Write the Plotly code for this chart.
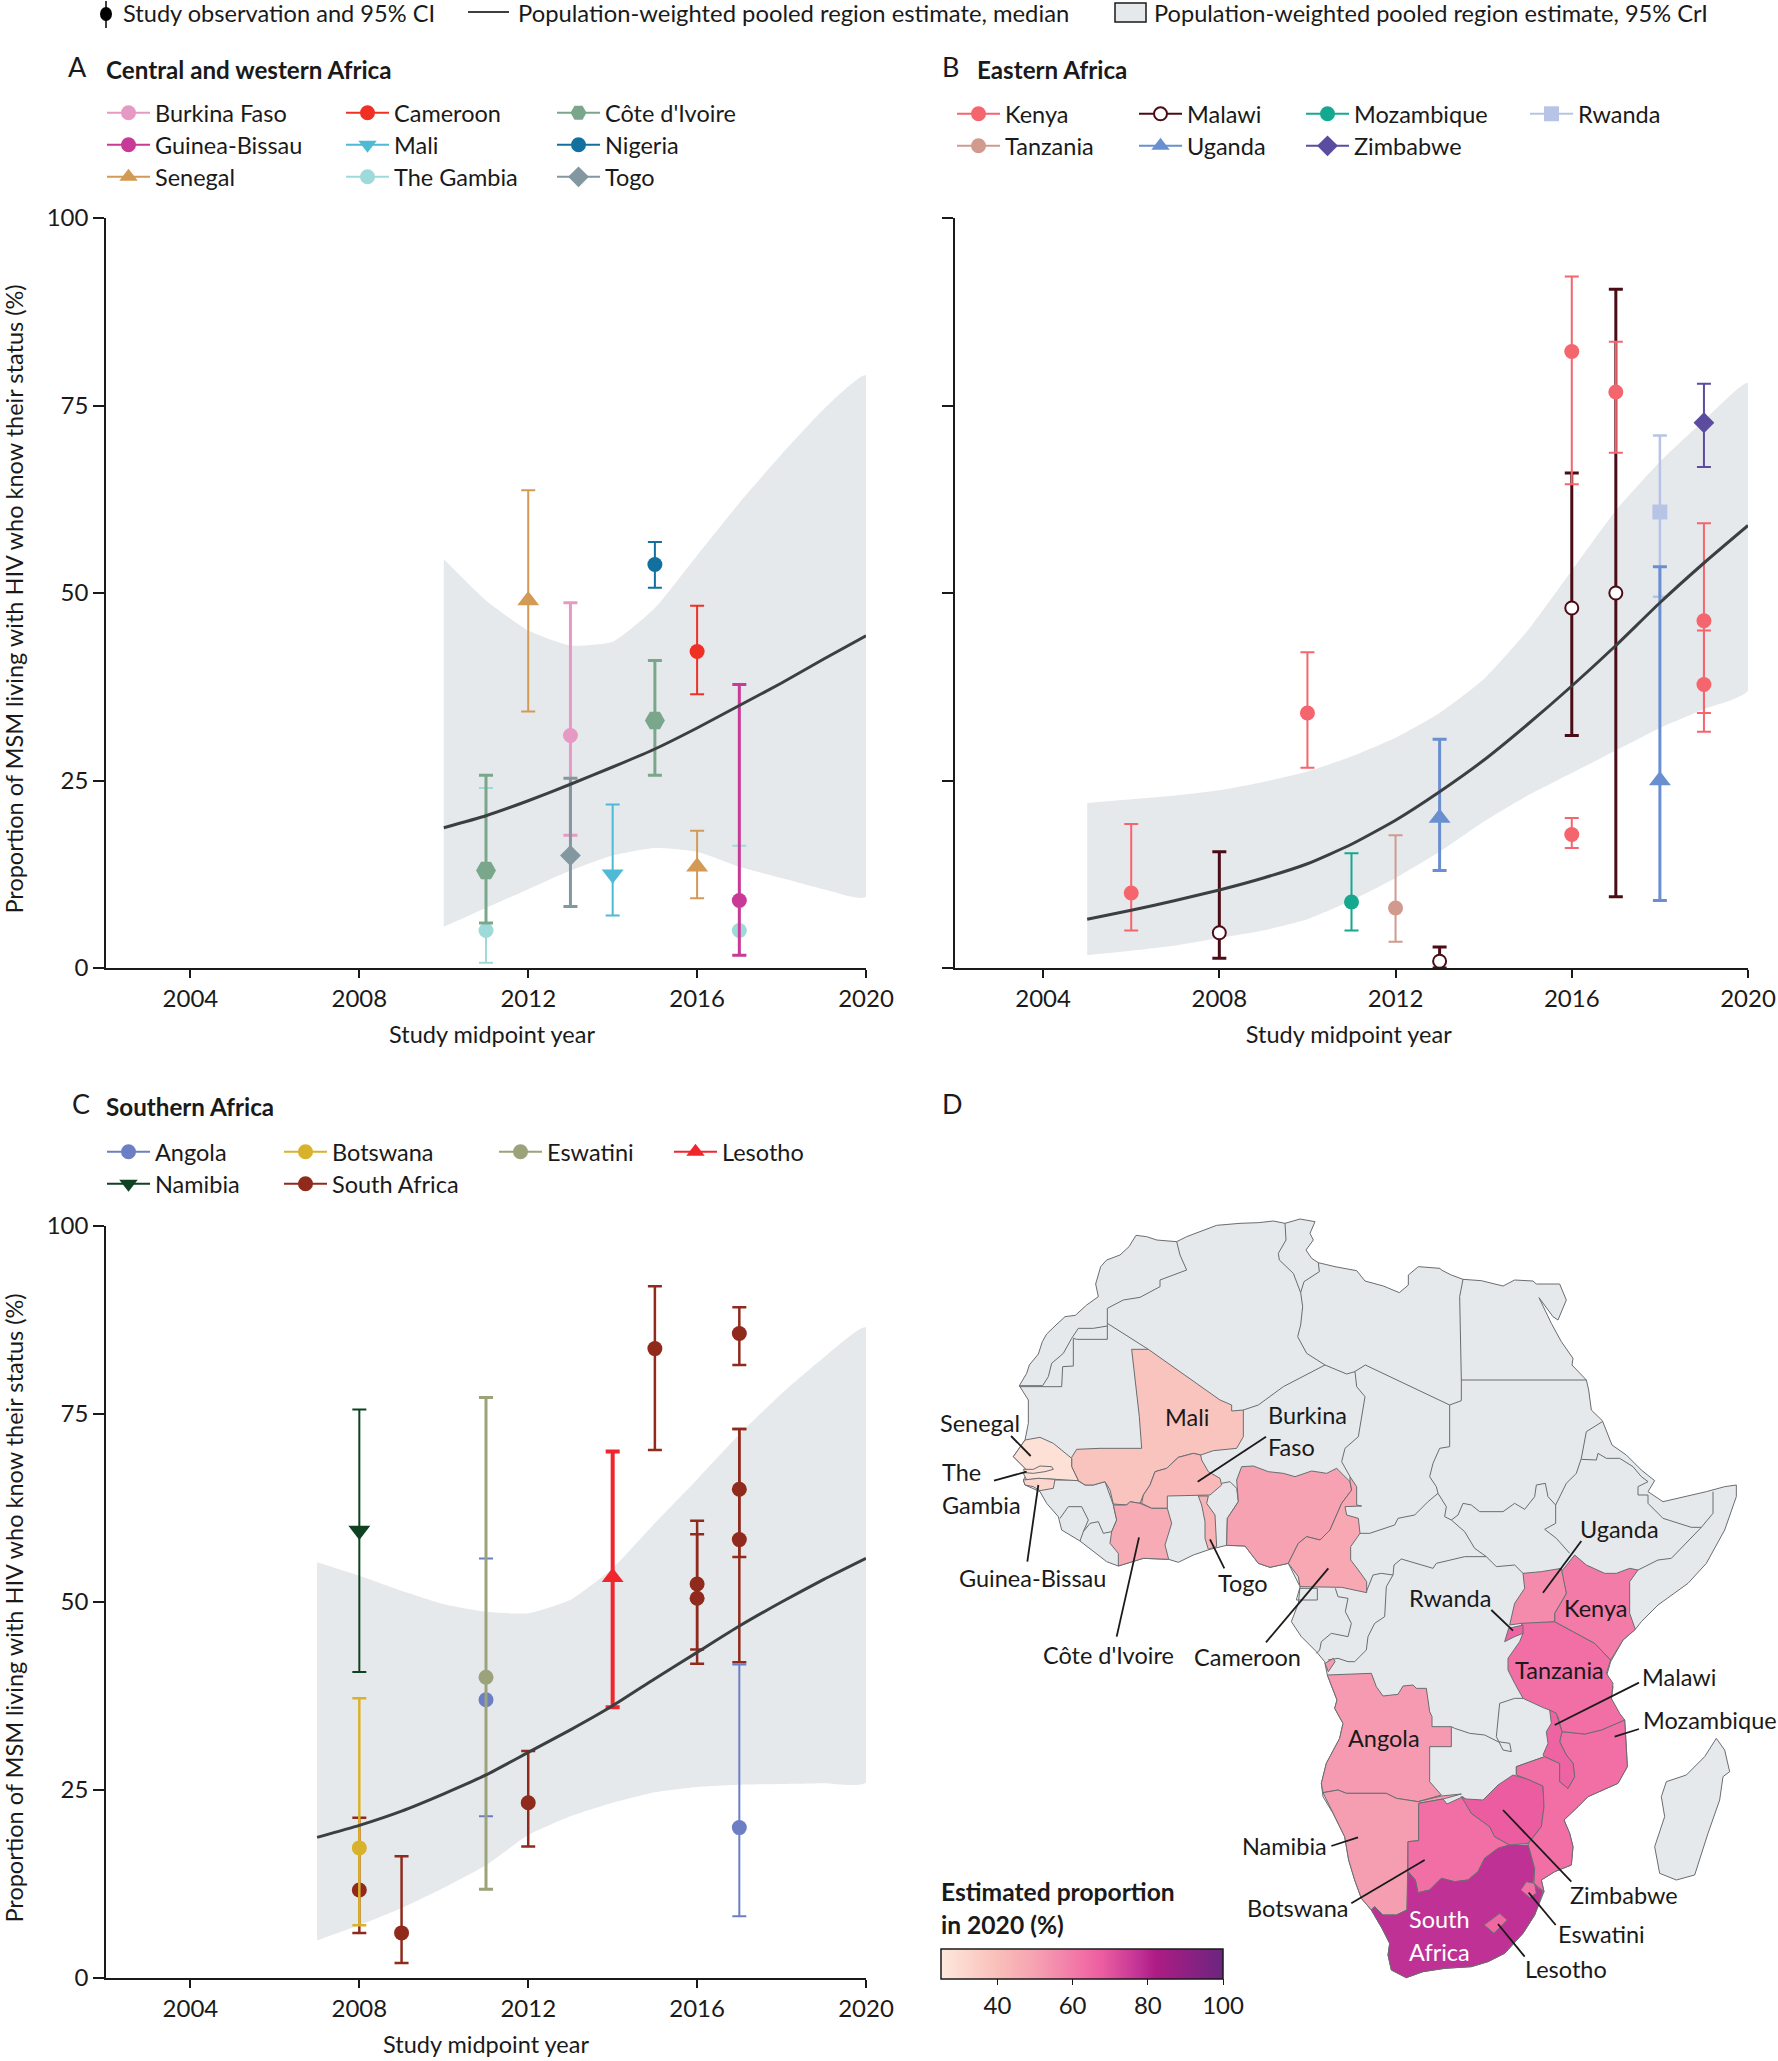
import plotly.graph_objects as go
from plotly.colors import sample_colorscale

# ---------------- DATA: panel A, Central and western Africa ----------------
A_band_years = [2010, 2011, 2012, 2013, 2014, 2015, 2016, 2017, 2018, 2019, 2020]
A_median = [18.7, 20.3, 22.3, 24.5, 26.8, 29.2, 32, 35, 38, 41.2, 44.3]
A_upper = [54.5, 49, 45, 43, 43.5, 48, 55, 62, 68.5, 74.5, 79]
A_lower = [5.5, 8, 10.5, 13, 15, 16, 15.5, 13.5, 12, 10.5, 9.5]
A_countries = ["The Gambia", "Burkina Faso", "Cameroon", "Côte d'Ivoire", "Guinea-Bissau", "Mali", "Nigeria", "Senegal", "Togo"]
A_years = [[2011, 2017], [2013], [2016], [2011, 2015], [2017], [2014], [2015], [2012, 2016], [2013]]
A_values = [[5, 5], [31], [42.2], [13, 33], [9], [12.5], [53.8], [49, 13.5], [15]]
A_low = [[0.7, 1.7], [17.7], [36.5], [6, 25.7], [1.7], [7], [50.7], [34.2, 9.3], [8.2]]
A_high = [[24, 16.3], [48.7], [48.3], [25.7, 41], [37.8], [21.8], [56.8], [63.7, 18.3], [25.3]]

# ---------------- DATA: panel B, Eastern Africa ----------------
B_band_years = [2005, 2006, 2007, 2008, 2009, 2010, 2011, 2012, 2013, 2014, 2015, 2016, 2017, 2018, 2019, 2020]
B_median = [6.5, 7.7, 9, 10.4, 12, 13.9, 16.5, 19.7, 23.5, 27.7, 32.5, 37.6, 43, 48.7, 54, 59]
B_upper = [22, 22.5, 23, 23.7, 24.8, 26.2, 28.2, 30.7, 34, 38.5, 45, 53, 61, 67.5, 73, 78]
B_lower = [1.7, 2.3, 3, 4, 5, 6.5, 9, 12, 15.5, 19.5, 23, 26, 29, 32, 34.5, 37]
B_countries = ["Malawi", "Kenya", "Mozambique", "Rwanda", "Tanzania", "Uganda", "Zimbabwe"]
B_years = [[2008, 2013, 2016, 2017], [2006, 2010, 2016, 2016, 2017, 2019, 2019], [2011], [2018], [2012], [2013, 2018], [2019]]
B_values = [[4.7, 0.9, 48, 50], [10, 34, 82.2, 17.8, 76.8, 46.3, 37.8], [8.8], [60.8], [8], [20, 25], [72.7]]
B_low = [[1.3, 0, 31, 9.5], [5, 26.7, 64.5, 16, 68.7, 34, 31.5], [5], [49.5], [3.5], [13, 9], [66.8]]
B_high = [[15.5, 2.8, 66, 90.5], [19.2, 42.1, 92.2, 20, 83.5, 59.3, 45], [15.3], [71], [17.7], [30.5, 53.5], [77.9]]

# ---------------- DATA: panel C, Southern Africa ----------------
C_band_years = [2007, 2008, 2009, 2010, 2011, 2012, 2013, 2014, 2015, 2016, 2017, 2018, 2019, 2020]
C_median = [18.7, 20.3, 22.2, 24.5, 27, 30, 33, 36.2, 39.8, 43.3, 46.8, 50, 53, 55.8]
C_upper = [55.3, 53.5, 51.5, 49.7, 48.7, 48.5, 50.3, 54.5, 60.5, 66.3, 72.3, 77.7, 82.5, 86.5]
C_lower = [5, 7, 9.3, 12, 15, 19, 21.5, 23.3, 24.7, 25.4, 25.7, 25.8, 25.9, 26]
C_countries = ["South Africa", "Angola", "Botswana", "Eswatini", "Lesotho", "Namibia"]
C_years = [[2008, 2009, 2012, 2015, 2016, 2016, 2017, 2017, 2017], [2011, 2017], [2008], [2011], [2014], [2008]]
C_values = [[11.7, 6, 23.3, 83.7, 52.4, 50.5, 85.7, 65, 58.3], [37, 20], [17.3], [40], [53.3], [59.5]]
C_low = [[6, 2, 17.5, 70.2, 43.7, 41.8, 81.5, 56, 42], [21.5, 8.2], [7], [11.8], [36], [40.7]]
C_high = [[21.3, 16.2, 30.2, 92, 60.8, 59, 89.2, 73, 73], [55.8, 41.7], [37.2], [77.2], [70], [75.6]]

TICK_YEARS = [2004, 2008, 2012, 2016, 2020]
TICK_PCT = [0, 25, 50, 75, 100]
Y_TITLE = "Proportion of MSM living with HIV who know their status (%)"
X_TITLE = "Study midpoint year"

# ---------------- DATA: panel D, estimated proportion in 2020 ----------------
D_estimates = {
    "Senegal": 28, "The Gambia": 28, "Guinea-Bissau": 32, "Mali": 38, "Burkina Faso": 42, "Togo": 44,
    "Côte d'Ivoire": 47, "Nigeria": 50, "Cameroon": 48, "Angola": 52, "Namibia": 51, "Uganda": 56,
    "Kenya": 60, "Botswana": 63, "Mozambique": 63, "Tanzania": 63, "Malawi": 66, "Zimbabwe": 68,
    "Eswatini": 63, "Lesotho": 65, "Rwanda": 66, "South Africa": 78,
}
COLOR_TICKS = [40, 60, 80, 100]

# Map outlines, in map units
def E(pts):
    return [(x + 984, y) for x, y in pts]
def S(pts):
    return [(x + 984, y + 1170) for x, y in pts]

CONTINENT = (
    [(268,527),(290,490),(298,465),(325,432),(337,395),(350,372),(378,345),(405,320),(436,316),(470,285),(505,260),(497,222),(512,170),(530,150),(570,135),(597,110),(618,76),(650,80),(680,90),(740,95),(770,80),(815,62),(860,46),(930,40),(985,38),(1030,33),(1065,40),(1110,27),(1155,35),(1140,70),(1150,90),(1128,120),(1145,145),(1165,158),(1215,170),(1280,182),(1305,213),(1360,228),(1408,248),(1435,225),(1435,195),(1465,170),(1530,175)]
    + E([(550,180),(580,195),(615,208),(670,212),(735,228),(770,210),(825,213),(835,222),(905,222),(925,270),(900,330),(885,320),(843,263),(880,340),(910,395),(945,445),(942,465),(985,510),(992,540),(1000,600),(1033,632),(1062,705),(1105,735),(1150,780),(1190,812),(1170,845),(1215,875),(1280,860),(1345,845),(1400,830),(1435,825),(1435,860),(1400,960),(1345,1060),(1290,1120),(1200,1185),(1150,1235),(1132,1258),(1095,1290),(1058,1355),(1045,1400),(1065,1430),(1060,1470),(1085,1525)])
    + S([(1100,360),(1105,440),(1108,500),(1080,550),(1030,572),(990,590),(960,620),(918,660),(935,700),(945,740),(940,795),(890,815),(850,840),(858,875),(830,945),(795,1000),(740,1060),(690,1085),(640,1100),(560,1105),(495,1115),(445,1133),(400,1110),(390,1065),(395,1030),(372,985),(340,930),(310,895),(290,840),(272,780),(260,710),(225,640),(195,590),(190,550),(205,490),(245,415),(255,370),(230,325),(237,300),(208,225),(200,185),(175,155),(130,110),(100,65)])
    + [(1105,1180),(1110,1130),(1075,1060),(1020,1072),(985,1060),(945,1008),(890,1006),(840,1018),(790,1035),(745,1057),(716,1048),(640,1045),(565,1068),(530,1055),(450,993),(395,960),(385,920),(350,880),(330,845),(285,825),(280,810),(295,785),(250,740),(285,690),(295,640),(295,570),(268,527)]
)
MADAGASCAR = S([(1375,415),(1400,450),(1415,515),(1395,530),(1385,600),(1350,700),(1310,825),(1255,840),(1205,820),(1190,740),(1220,650),(1210,590),(1225,545),(1285,525),(1340,470),(1375,415)])

BORDERS = [
    [(740,95),(750,135),(770,180),(690,210),(690,230),(630,262),(580,270),(532,295),(532,388),(440,388),(430,385)],
    [(532,348),(490,355),(445,355),(425,385),(400,430),(365,460),(355,500),(338,527),(268,527)],
    [(430,385),(430,468),(398,470),(395,530),(268,530)],
    [(532,340),(655,418)],
    [(1065,40),(1068,90),(1045,130),(1048,150),(1090,190),(1112,248),(1118,290),(1112,345),(1103,380),(1130,430),(1185,465)],
    [(1165,158),(1168,185),(1122,215),(1112,248)],
    [(940,600),(985,585),(1060,530),(1110,505),(1185,465),(1250,492),(1275,485),(1280,530),(1305,560),(1285,680),(1245,715),(1235,755),(1260,800)],
    E([(290,485),(322,465),(575,585),(610,572),(610,510),(605,260),(615,208)]),
    E([(610,510),(985,510)]),
    E([(575,585),(575,710),(545,715),(525,760),(515,800),(535,830),(540,850),(510,875),(470,915),(420,925),(410,945),(335,970),(305,970)]),
    E([(540,850),(565,890),(560,920),(580,930),(600,915),(615,880),(640,885),(665,905),(735,905),(770,880),(800,898),(830,860),(835,825),(862,820),(870,860),(893,885),(893,940),(860,958),(895,985),(935,1030)]),
    E([(893,885),(925,820),(955,790),(970,745),(985,665),(1033,635)]),
    E([(970,748),(1015,750),(1020,730),(1045,745),(1085,745),(1125,770),(1150,800),(1170,815),(1140,830),(1140,855),(1170,855),(1170,880),(1215,925),(1300,952),(1330,952),(1365,910),(1365,845)]),
    E([(1330,952),(1240,1045),(1200,1050),(1140,1080)]),
    E([(580,930),(620,965),(650,1015),(685,1040),(715,1070),(770,1065),(795,1090)]),
    E([(685,1040),(620,1040),(535,1060),(525,1075),(430,1047),(408,1065),(405,1095),(370,1090),(345,1095),(325,1145)]),
    E([(405,1095),(385,1130),(380,1220),(350,1240),(330,1280),(325,1320),(290,1355),(270,1355),(240,1345),(210,1350)]),
    E([(232,1135),(240,1160),(270,1165),(262,1205),(280,1240),(270,1280),(220,1270),(190,1295),(185,1320),(175,1330)]),
    E([(125,1135),(178,1135),(178,1170),(115,1170),(125,1135)]),
    S([(580,380),(590,385),(635,400),(680,405),(720,425),(755,430),(760,455),(735,450),(715,410),(725,310),(770,295),(795,295)]),
    S([(860,470),(775,500),(775,525)]),
    [(375,810),(440,810),(465,825),(490,825),(525,815),(545,870),(550,885),(560,930),(545,965),(520,970),(505,935),(480,940),(460,965),(450,993)],
    [(390,925),(415,890),(455,890),(475,930),(460,965)],
    [(875,820),(900,815),(920,835),(925,875),(892,925),(890,1005)],
]

COUNTRY_SHAPES = [
    ("Mali", [(605,418),(655,418),(870,570),(905,585),(905,603),(940,600),(940,680),(920,715),(850,722),(812,735),(790,730),(745,742),(710,775),(675,785),(660,825),(640,855),(630,880),(600,875),(590,885),(550,882),(540,840),(525,815),(490,825),(465,825),(445,812),(425,770),(425,742),(440,718),(510,715),(635,715),(628,620),(605,418)]),
    ("Senegal", [(285,690),(330,682),(370,700),(395,720),(425,745),(425,770),(445,812),(375,808),(325,805),(290,810),(280,790),(295,785),(280,770),(250,740),(285,690)]),
    ("The Gambia", [(280,778),(310,778),(330,768),(365,770),(370,778),(345,785),(310,790),(285,788),(280,778)]),
    ("Guinea-Bissau", [(280,810),(325,805),(375,808),(370,835),(330,842),(310,830),(285,825),(280,810)]),
    ("Burkina Faso", [(812,735),(790,730),(745,742),(710,775),(675,785),(660,825),(640,855),(635,880),(665,895),(712,895),(712,858),(805,855),(840,855),(875,825),(870,805),(835,785),(815,750),(812,735)]),
    ("Côte d'Ivoire", [(550,885),(590,885),(600,875),(630,880),(665,895),(712,895),(725,940),(705,1005),(716,1048),(640,1045),(565,1068),(565,1030),(540,1000),(545,965),(560,930),(550,885)]),
    ("Togo", [(805,858),(835,858),(830,880),(855,915),(860,1010),(835,1018),(825,985),(825,935),(815,885),(805,858)]),
    ("Nigeria", [(935,770),(970,768),(1015,785),(1060,790),(1095,800),(1145,783),(1190,790),(1220,775),(1260,815),(1265,840),(1235,880),(1200,960),(1170,990),(1130,980),(1105,1000),(1075,1060),(1020,1072),(985,1060),(945,1008),(890,1006),(892,925),(925,875),(920,810),(935,770)]),
    ("Cameroon", [(1260,800),(1280,830),(1280,885),(1295,888),(1245,890),(1250,915),(1285,925),(1290,970),(1262,1010),(1262,1050),(1285,1080),(1310,1115),(1310,1148),(1235,1132),(1110,1130),(1105,1100),(1075,1060),(1105,1000),(1130,980),(1170,990),(1200,960),(1235,880),(1265,840),(1260,815),(1260,800)]),
    ("Angola", [(1185,1360),(1210,1345),(1215,1355),(1195,1385),(1185,1360)]),
    ("Angola", S([(208,225),(340,220),(355,260),(375,288),(420,283),(435,258),(465,255),(475,265),(505,265),(515,335),(522,350),(522,380),(580,380),(580,440),(515,440),(515,545),(550,585),(480,605),(415,595),(385,580),(265,580),(240,570),(195,578),(190,550),(205,490),(245,415),(255,370),(230,325),(237,300),(208,225)])),
    ("Namibia", S([(195,578),(240,570),(265,580),(385,580),(415,595),(480,605),(550,588),(610,582),(555,597),(482,610),(482,722),(450,725),(447,930),(415,945),(375,945),(350,920),(340,930),(310,895),(290,840),(272,780),(260,710),(225,640),(195,578)])),
    ("Botswana", S([(482,610),(555,597),(567,612),(615,590),(640,640),(695,680),(710,710),(755,735),(720,745),(680,775),(660,815),(630,840),(590,845),(550,835),(515,870),(480,878),(472,840),(450,815),(450,725),(482,722),(482,610)])),
    ("Zimbabwe", S([(610,590),(625,597),(675,600),(720,555),(765,525),(810,538),(855,558),(858,620),(850,680),(810,730),(755,735),(710,710),(695,680),(640,640),(610,590)])),
    ("South Africa", S([(755,735),(810,735),(830,805),(825,850),(855,875),(830,945),(795,1000),(740,1060),(690,1085),(640,1100),(560,1105),(495,1115),(445,1133),(400,1110),(390,1065),(395,1030),(372,985),(340,930),(350,920),(375,945),(415,945),(447,930),(450,815),(472,840),(480,878),(515,870),(550,835),(590,845),(630,840),(660,815),(680,775),(720,745),(755,735)])),
    ("Lesotho", S([(725,940),(748,960),(708,1000),(678,975),(725,940)])),
    ("Eswatini", S([(805,845),(830,850),(835,880),(815,893),(788,870),(805,845)])),
    ("Mozambique", S([(1100,360),(1105,440),(1108,500),(1080,550),(1030,572),(990,590),(960,620),(918,660),(935,700),(945,740),(940,795),(890,815),(850,840),(858,875),(828,850),(830,805),(810,732),(850,680),(858,620),(855,558),(810,538),(775,525),(775,500),(860,470),(905,490),(905,545),(930,565),(950,530),(945,490),(925,465),(905,425),(912,395),(980,402),(1030,390),(1100,360)])),
    ("Tanzania", S([(790,67),(890,65),(1010,130),(1058,180),(1045,220),(1065,250),(1060,295),(1085,340),(1100,360),(1030,390),(980,402),(912,395),(900,350),(875,330),(860,325),(795,295),(770,250),(750,210),(750,175),(785,125),(795,100),(790,67)])),
    ("Malawi", S([(875,330),(895,340),(905,375),(912,395),(905,425),(925,465),(945,490),(950,530),(930,565),(905,545),(905,490),(860,470),(855,465),(870,430),(865,395),(880,370),(875,330)])),
    ("Rwanda", S([(752,85),(795,75),(795,100),(770,110),(740,125),(752,85)])),
    ("Kenya", E([(950,1035),(985,1065),(1040,1090),(1075,1090),(1115,1075),(1140,1080),(1115,1115),(1115,1210),(1132,1258),(1095,1290),(1058,1350),(1010,1300),(890,1235),(890,1210),(925,1150),(910,1085),(950,1035)])),
    ("Uganda", E([(795,1090),(850,1085),(910,1075),(925,1150),(890,1210),(890,1235),(790,1240),(755,1245),(770,1180),(800,1135),(795,1090)])),
]

LEADERS = [
    [(243,678),(302,738)], [(192,812),(290,785)], [(292,1055),(325,825)], [(560,1280),(627,982)],
    [(883,1075),(840,988)], [(1008,1297),(1195,1075)], [(1008,680),(803,815)],
    E([(970,993),(855,1148)]), E([(700,1200),(765,1262)]), E([(1143,1418),(890,1545)]),
    S([(1143,387),(1070,410)]), S([(220,738),(300,712)]), S([(280,910),(500,780)]),
    S([(940,845),(735,630)]), S([(893,975),(812,878)]), S([(800,1070),(720,972)]),
]

# (map x, map y, text, anchor, colour)
MAP_LABELS = [
    (150,640,"Senegal","center","#1a1a1a"), (31,785,"The","left","#1a1a1a"), (31,885,"Gambia","left","#1a1a1a"),
    (308,1103,"Guinea-Bissau","center","#1a1a1a"), (535,1335,"Côte d'Ivoire","center","#1a1a1a"),
    (940,1120,"Togo","center","#1a1a1a"), (952,1340,"Cameroon","center","#1a1a1a"), (770,622,"Mali","center","#1a1a1a"),
    (1009,615,"Burkina","left","#1a1a1a"), (1009,710,"Faso","left","#1a1a1a"),
    (984+1085,958,"Uganda","center","#1a1a1a"), (984+575,1165,"Rwanda","center","#1a1a1a"), (984+1012,1195,"Kenya","center","#1a1a1a"),
    (984+905,1380,"Tanzania","center","#1a1a1a"), (984+1263,1402,"Malawi","center","#1a1a1a"),
    (984+1355,1170+360,"Mozambique","center","#1a1a1a"), (984+378,1170+415,"Angola","center","#1a1a1a"),
    (984+213,1170+738,"Namibia","right","#1a1a1a"), (984+280,1170+925,"Botswana","right","#1a1a1a"),
    (984+1097,1170+885,"Zimbabwe","center","#1a1a1a"), (984+1030,1170+1003,"Eswatini","center","#1a1a1a"),
    (984+925,1170+1108,"Lesotho","center","#1a1a1a"), (984+543,1170+958,"South","center","#ffffff"), (984+543,1170+1055,"Africa","center","#ffffff"),
]

# ---------------- STYLES ----------------
W, H = 1778, 2061
FONT = "Lato"
INK = "#1a1a1a"
BAND = "#E6E9EC"
LINE = "#3c3f42"
TXT = 23.5
COLORSCALE = [[0.0, "#FEE8DD"], [0.2, "#F9BFB9"], [0.333, "#F6A2B2"], [0.467, "#F27BA8"], [0.507, "#F26FA6"],
              [0.573, "#EC5CA0"], [0.707, "#BF3194"], [0.76, "#AE1C84"], [1.0, "#6B2580"]]
STYLE_A = {"Burkina Faso": ("#E69AC3", "circle", 3), "Cameroon": ("#F03024", "circle", 2), "Côte d'Ivoire": ("#7AA78B", "hexagon2", 3),
           "Guinea-Bissau": ("#C93A97", "circle", 3), "Mali": ("#4DBAD6", "triangle-down", 2), "Nigeria": ("#12709F", "circle", 2),
           "Senegal": ("#D29A54", "triangle-up", 2), "The Gambia": ("#9FDADB", "circle", 2), "Togo": ("#82979F", "diamond", 3)}
STYLE_B = {"Kenya": ("#F4656D", "circle", 2), "Malawi": ("#4A0D16", "circle-open", 3), "Mozambique": ("#14A88E", "circle", 2),
           "Rwanda": ("#B8C4E6", "square", 2.5), "Tanzania": ("#D09A8F", "circle", 2), "Uganda": ("#6A8FD0", "triangle-up", 3),
           "Zimbabwe": ("#5B4CA0", "diamond", 2)}
STYLE_C = {"Angola": ("#6C7FC4", "circle", 2), "Botswana": ("#D9B22B", "circle", 2.5), "Eswatini": ("#9CA27A", "circle", 3),
           "Lesotho": ("#F0262E", "triangle-up", 4), "Namibia": ("#0E4220", "triangle-down", 2), "South Africa": ("#8F2A1C", "circle", 2.5)}

def px(x):
    return x / W
def py(y):
    return 1 - y / H

fig = go.Figure()

def marker_of(symbol, colour):
    if symbol == "circle-open":
        return dict(symbol="circle", size=13, color="white", line=dict(color=colour, width=2))
    size = {"diamond": 16, "hexagon2": 20, "triangle-up": 19, "triangle-down": 19, "square": 15}.get(symbol, 15)
    return dict(symbol=symbol, size=size, color=colour, line=dict(width=0))

def add_panel(xa, ya, years, median, upper, lower, names, xs, vals, lows, highs, style):
    fig.add_trace(go.Scatter(x=years + years[::-1], y=upper + lower[::-1], fill="toself", mode="lines",
                             fillcolor=BAND, line=dict(width=0, shape="spline", smoothing=0.5), xaxis=xa, yaxis=ya,
                             showlegend=False, hoverinfo="skip"))
    for name, x, v, lo, hi in zip(names, xs, vals, lows, highs):
        colour, symbol, thick = style[name]
        fig.add_trace(go.Scatter(x=x, y=v, mode="markers", name=name, marker=marker_of(symbol, colour),
                                 error_y=dict(type="data", symmetric=False,
                                              array=[h - a for h, a in zip(hi, v)],
                                              arrayminus=[a - l for l, a in zip(lo, v)],
                                              color=colour, thickness=thick, width=7),
                                 cliponaxis=False, xaxis=xa, yaxis=ya, showlegend=False))
    fig.add_trace(go.Scatter(x=years, y=median, mode="lines", line=dict(color=LINE, width=3, shape="spline", smoothing=0.5),
                             xaxis=xa, yaxis=ya, showlegend=False, name="Median"))

add_panel("x", "y", A_band_years, A_median, A_upper, A_lower, A_countries, A_years, A_values, A_low, A_high, STYLE_A)
add_panel("x2", "y2", B_band_years, B_median, B_upper, B_lower, B_countries, B_years, B_values, B_low, B_high, STYLE_B)
add_panel("x3", "y3", C_band_years, C_median, C_upper, C_lower, C_countries, C_years, C_values, C_low, C_high, STYLE_C)

# Legends: one small Plotly legend per entry, built of key-only traces
legend_cols = [
    (STYLE_A, "x", "y", 102, 91, [["Burkina Faso", "Guinea-Bissau", "Senegal"], ["Cameroon", "Mali", "The Gambia"], ["Côte d'Ivoire", "Nigeria", "Togo"]], [0, 239, 450]),
    (STYLE_B, "x2", "y2", 952, 92, [["Kenya", "Tanzania"], ["Malawi", "Uganda"], ["Mozambique", "Zimbabwe"], ["Rwanda"]], [0, 182, 349, 573]),
    (STYLE_C, "x3", "y3", 102, 1130, [["Angola", "Namibia"], ["Botswana", "South Africa"], ["Eswatini"], ["Lesotho"]], [0, 177, 392, 567]),
]
ROW_PITCH = 32
layout_legends = {}
n = 0
for style, xa, ya, x0, y0, cols, offs in legend_cols:
    for col, off in zip(cols, offs):
        for r, name in enumerate(col):
            n += 1
            lid = "legend" if n == 1 else f"legend{n}"
            layout_legends[lid] = dict(x=px(x0 + off), y=py(y0 + r * ROW_PITCH), xanchor="left", yanchor="top",
                                       bgcolor="rgba(0,0,0,0)", itemwidth=43,
                                       font=dict(family=FONT, size=TXT, color=INK),
                                       itemclick=False, itemdoubleclick=False)
            colour, symbol, _ = style[name]
            fig.add_trace(go.Scatter(x=[None], y=[None], mode="lines+markers", name=name, legend=lid,
                                     line=dict(color=colour, width=2), marker=marker_of(symbol, colour),
                                     xaxis=xa, yaxis=ya, showlegend=True, hoverinfo="skip"))

# Map
def xy(pts):
    return [p[0] for p in pts], [p[1] for p in pts]

BORDER = "#6a6d70"
for pts in (CONTINENT, MADAGASCAR):
    mx, my = xy(pts)
    fig.add_trace(go.Scatter(x=mx, y=my, mode="lines", fill="toself", fillcolor=BAND, line=dict(color=BORDER, width=1),
                             xaxis="x4", yaxis="y4", showlegend=False, hoverinfo="skip"))
bx, by = [], []
for seg in BORDERS:
    sx, sy = xy(seg)
    bx += sx + [None]
    by += sy + [None]
fig.add_trace(go.Scatter(x=bx, y=by, mode="lines", line=dict(color=BORDER, width=1), xaxis="x4", yaxis="y4",
                         showlegend=False, hoverinfo="skip"))
for name, pts in COUNTRY_SHAPES:
    mx, my = xy(pts)
    colour = sample_colorscale(COLORSCALE, (D_estimates[name] - 25) / 75)[0]
    fig.add_trace(go.Scatter(x=mx, y=my, mode="lines", fill="toself", fillcolor=colour, name=name,
                             line=dict(color=BORDER, width=1), xaxis="x4", yaxis="y4", showlegend=False))
lx, ly = [], []
for seg in LEADERS:
    sx, sy = xy(seg)
    lx += sx + [None]
    ly += sy + [None]
fig.add_trace(go.Scatter(x=lx, y=ly, mode="lines", line=dict(color=INK, width=1.8), xaxis="x4", yaxis="y4",
                         showlegend=False, hoverinfo="skip"))
# colour bar
fig.add_trace(go.Scatter(x=[None], y=[None], mode="markers", xaxis="x4", yaxis="y4", showlegend=False, hoverinfo="skip",
                         marker=dict(color=[50], cmin=25, cmax=100, colorscale=COLORSCALE, showscale=True,
                                     colorbar=dict(orientation="h", x=px(941), y=py(1949), xanchor="left", yanchor="top",
                                                   len=282, lenmode="pixels", thickness=30, thicknessmode="pixels",
                                                   xpad=0, ypad=0, tickmode="array", tickvals=COLOR_TICKS, ticks="outside",
                                                   ticklen=6, tickcolor=INK, tickfont=dict(family=FONT, size=24, color=INK),
                                                   outlinecolor=INK, outlinewidth=1.5, borderwidth=0))))

# Annotations
ann = []
def text(x, y, s, size=TXT, bold=False, anchor="left", colour=INK, xref="paper", yref="paper"):
    ann.append(dict(x=x, y=y, xref=xref, yref=yref, text=f"<b>{s}</b>" if bold else s, showarrow=False,
                    xanchor=anchor, yanchor="middle", font=dict(family=FONT, size=size, color=colour)))

text(px(121), py(13), "Study observation and 95% CI", 23.6)
text(px(516), py(13), "Population-weighted pooled region estimate, median", 23.8)
text(px(1152), py(13), "Population-weighted pooled region estimate, 95% CrI", 23.6)
for s, x, y in [("A", 66, 67), ("B", 940, 67), ("C", 70, 1103), ("D", 940, 1103)]:
    text(px(x), py(y), s, 27)
for s, x, y in [("Central and western Africa", 104, 69), ("Eastern Africa", 975, 69), ("Southern Africa", 104, 1106)]:
    text(px(x), py(y), s, 24.2, bold=True)
text(px(939), py(1891), "Estimated proportion", 24.6, bold=True)
text(px(939), py(1924), "in 2020 (%)", 24.6, bold=True)
for x, y, s, a, c in MAP_LABELS:
    text(x, y, s, TXT, anchor=a, colour=c, xref="x4", yref="y4")

shapes = [
    dict(type="line", xref="paper", yref="paper", x0=px(106), x1=px(106), y0=py(1), y1=py(28), line=dict(color="#000", width=1.5)),
    dict(type="circle", xref="paper", yref="paper", x0=px(100), x1=px(112), y0=py(7), y1=py(21), fillcolor="#000", line=dict(width=0)),
    dict(type="line", xref="paper", yref="paper", x0=px(468), x1=px(509), y0=py(12), y1=py(12), line=dict(color=LINE, width=2)),
    dict(type="rect", xref="paper", yref="paper", x0=px(1115), x1=px(1146), y0=py(3), y1=py(22), fillcolor=BAND, line=dict(color=INK, width=1.5)),
]

NB = "&nbsp;"
def xaxis(dom_l, dom_r, anchor, title):
    return dict(domain=[px(dom_l), px(dom_r)], range=[2002, 2020], tickvals=TICK_YEARS, ticks="outside", ticklen=8, tickwidth=1.5,
                tickcolor=INK, linecolor=INK, linewidth=1.5, showgrid=False, zeroline=False, anchor=anchor, automargin=False,
                tickfont=dict(family=FONT, size=24, color=INK),
                title=dict(text=title, font=dict(family=FONT, size=TXT, color=INK), standoff=16))
def yaxis(top, bottom, anchor, labels=True):
    d = dict(domain=[py(bottom), py(top)], range=[0, 100], tickvals=TICK_PCT, ticks="outside", ticklen=11, tickwidth=1.5,
             tickcolor=INK, linecolor=INK, linewidth=1.5, showgrid=False, zeroline=False, anchor=anchor, automargin=False,
             showticklabels=labels, tickfont=dict(family=FONT, size=24, color=INK))
    if labels:
        d["title"] = dict(text=Y_TITLE + NB + NB, font=dict(family=FONT, size=TXT, color=INK), standoff=22)
    return d

fig.update_layout(
    width=W, height=H, margin=dict(l=0, r=0, t=0, b=0, pad=0, autoexpand=False),
    paper_bgcolor="white", plot_bgcolor="rgba(0,0,0,0)", font=dict(family=FONT, size=TXT, color=INK),
    xaxis=xaxis(106, 866, "y", NB + NB + X_TITLE), yaxis=yaxis(218, 968, "x"),
    xaxis2=xaxis(955, 1748, "y2", X_TITLE + NB), yaxis2=yaxis(218, 968, "x2", labels=False),
    xaxis3=xaxis(106, 866, "y3", X_TITLE), yaxis3=yaxis(1226, 1978, "x3"),
    xaxis4=dict(domain=[px(930), px(1778)], range=[0, 2544], visible=False, anchor="y4"),
    yaxis4=dict(domain=[py(2061), py(1210)], range=[2553, 0], visible=False, anchor="x4"),
    annotations=ann, shapes=shapes, hovermode=False,
    **layout_legends,
)

fig.write_html("out.html", config={"displayModeBar": False},
               post_script="document.body.style.margin='0';document.documentElement.style.overflow='hidden';")
